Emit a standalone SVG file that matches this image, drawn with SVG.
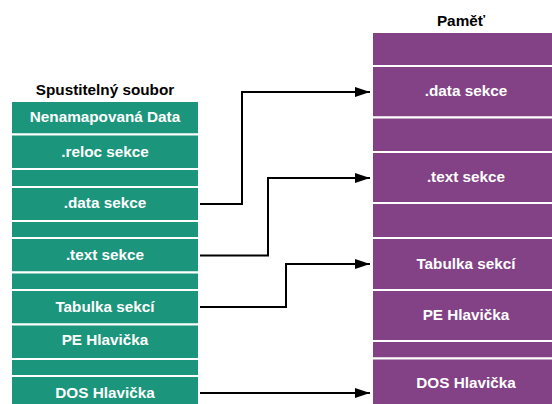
<svg xmlns="http://www.w3.org/2000/svg" width="552" height="404" viewBox="0 0 552 404">
  <defs>
    <marker id="arrow" viewBox="0 0 15 10" refX="15" refY="5" markerWidth="15" markerHeight="10" markerUnits="userSpaceOnUse" orient="auto">
      <path d="M0,0 L15,5 L0,10 z" fill="#000"/>
    </marker>
  </defs>
  <style>
    text { font-family: "Liberation Sans", Arial, sans-serif; font-weight: bold; font-size: 15.3px; text-anchor: middle; }
    .title { fill: #000; }
    .lbl { fill: #fff; }
    .file { fill: #1b957b; stroke: #fff; stroke-width: 2; }
    .mem { fill: #834285; stroke: #fff; stroke-width: 2; }
    .conn { fill: none; stroke: #000; stroke-width: 2; marker-end: url(#arrow); }
  </style>
  <rect width="552" height="404" fill="#fff"/>

  <!-- Executable file layout -->
  <text class="title" x="105" y="95">Spustitelný soubor</text>
  <g id="file">
    <g id="file-unmapped"><rect class="file" x="11" y="101" width="188" height="33.5"/><text class="lbl" x="105" y="122">Nenamapovaná Data</text></g>
    <g id="file-reloc"><rect class="file" x="11" y="134.5" width="188" height="34.5"/><text class="lbl" x="105" y="156.5">.reloc sekce</text></g>
    <g id="file-gap1"><rect class="file" x="11" y="169" width="188" height="18"/></g>
    <g id="file-data"><rect class="file" x="11" y="187" width="188" height="34"/><text class="lbl" x="105" y="208">.data sekce</text></g>
    <g id="file-gap2"><rect class="file" x="11" y="221" width="188" height="17"/></g>
    <g id="file-text"><rect class="file" x="11" y="238" width="188" height="34.5"/><text class="lbl" x="105" y="259.5">.text sekce</text></g>
    <g id="file-gap3"><rect class="file" x="11" y="272.5" width="188" height="17.5"/></g>
    <g id="file-sections"><rect class="file" x="11" y="290" width="188" height="34.5"/><text class="lbl" x="105" y="311.5">Tabulka sekcí</text></g>
    <g id="file-pe"><rect class="file" x="11" y="324.5" width="188" height="34.5"/><text class="lbl" x="105" y="345">PE Hlavička</text></g>
    <g id="file-gap4"><rect class="file" x="11" y="359" width="188" height="17"/></g>
    <g id="file-dos"><rect class="file" x="11" y="376" width="188" height="30"/><text class="lbl" x="105" y="397.5">DOS Hlavička</text></g>
  </g>

  <!-- Memory image layout -->
  <text class="title" x="461" y="26">Paměť</text>
  <g id="mem">
    <g id="mem-top"><rect class="mem" x="372" y="32" width="182" height="34"/></g>
    <g id="mem-data"><rect class="mem" x="372" y="66" width="182" height="51.5"/><text class="lbl" x="466" y="96">.data sekce</text></g>
    <g id="mem-gap1"><rect class="mem" x="372" y="117.5" width="182" height="34.5"/></g>
    <g id="mem-text"><rect class="mem" x="372" y="152" width="182" height="51"/><text class="lbl" x="466" y="182">.text sekce</text></g>
    <g id="mem-gap2"><rect class="mem" x="372" y="203" width="182" height="35"/></g>
    <g id="mem-sections"><rect class="mem" x="372" y="238" width="182" height="52"/><text class="lbl" x="466" y="268.5">Tabulka sekcí</text></g>
    <g id="mem-pe"><rect class="mem" x="372" y="290" width="182" height="51"/><text class="lbl" x="466" y="319.5">PE Hlavička</text></g>
    <g id="mem-gap3"><rect class="mem" x="372" y="341" width="182" height="17.5"/></g>
    <g id="mem-dos"><rect class="mem" x="372" y="358.5" width="182" height="48"/><text class="lbl" x="466" y="388">DOS Hlavička</text></g>
  </g>

  <!-- Mapping connectors -->
  <g id="connectors">
    <polyline class="conn" points="200,204 242,204 242,92 370,92"/>
    <polyline class="conn" points="200,255.5 268,255.5 268,178 370,178"/>
    <polyline class="conn" points="200,307 286,307 286,264 370,264"/>
    <polyline class="conn" points="200,393 370,393"/>
  </g>
</svg>
